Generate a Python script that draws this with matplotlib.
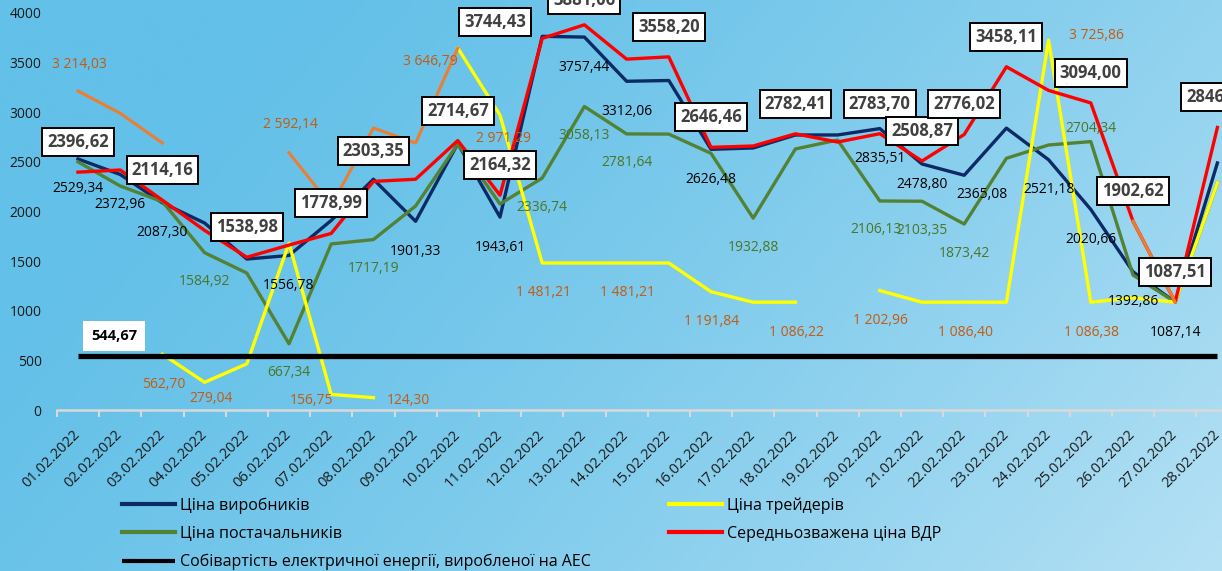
import numpy as np
import matplotlib
matplotlib.use('Agg')
import matplotlib.pyplot as plt

plt.rcParams['font.family'] = ['Open Sans', 'DejaVu Sans']

nan = np.nan

dates = ['01.02.2022', '02.02.2022', '03.02.2022', '04.02.2022', '05.02.2022', '06.02.2022', '07.02.2022',
         '08.02.2022', '09.02.2022', '10.02.2022', '11.02.2022', '12.02.2022', '13.02.2022', '14.02.2022',
         '15.02.2022', '16.02.2022', '17.02.2022', '18.02.2022', '19.02.2022', '20.02.2022', '21.02.2022',
         '22.02.2022', '23.02.2022', '24.02.2022', '25.02.2022', '26.02.2022', '27.02.2022', '28.02.2022']

# Ціна виробників
producers = [2529.34, 2372.96, 2087.30, 1884, 1521, 1556.78, 1910, 2325, 1901.33, 2685, 1943.61, 3765,
             3757.44, 3312.06, 3320, 2626.48, 2640, 2771, 2771, 2835.51, 2478.80, 2365.08, 2840, 2521.18,
             2020.66, 1392.86, 1087.14, 2489]
# Ціна постачальників
suppliers = [2500, 2257, 2099, 1584.92, 1380, 667.34, 1673, 1717.19, 2055, 2680, 2076, 2336.74, 3058.13,
             2781.64, 2780, 2586, 1932.88, 2630, 2720, 2106.13, 2103.35, 1873.42, 2536, 2670, 2704.34,
             1360, 1087, 2290]
# Ціна трейдерів
traders = [nan, nan, 562.70, 279.04, 465, 1680, 156.75, 124.30, nan, 3646.79, 2971.29, 1481.21, 1481.21,
           1481.21, 1481.21, 1191.84, 1086, 1086.22, nan, 1202.96, 1086, 1086.40, 1086, 3725.86, 1086.38,
           1130, 1087, 2290]
# Середньозважена ціна ВДР
vdr = [2396.62, 2418, 2114.16, 1810, 1538.98, 1662, 1778.99, 2303.35, 2325, 2714.67, 2164.32, 3744.43,
       3881.06, 3535, 3558.20, 2646.46, 2660, 2782.41, 2700, 2783.70, 2508.87, 2776.02, 3458.11, 3220,
       3094.00, 1902.62, 1087.51, 2846.40]
# second traders-type series (orange, not in legend)
other = [3214.03, 2990, 2690, nan, nan, 2592.14, 2057, 2841, 2690, 3646.79, nan, nan, nan, nan, nan, nan,
         nan, nan, nan, nan, nan, nan, nan, nan, nan, 1902.62, 1087.51, nan]
# Собівартість електричної енергії, виробленої на АЕС
aes = [544.67] * 28

# which points carry a value label
producers_lbl = [0, 1, 2, 5, 8, 10, 12, 13, 15, 19, 20, 21, 23, 24, 25, 26]
suppliers_lbl = [3, 5, 7, 11, 12, 13, 16, 19, 20, 21, 24]
traders_lbl = [2, 3, 6, 7, 9, 10, 11, 13, 15, 17, 19, 21, 23, 24]
other_lbl = [0, 5]
vdr_lbl = [0, 2, 4, 6, 7, 9, 10, 11, 12, 14, 15, 17, 19, 20, 21, 22, 24, 25, 26, 27]

# label offsets in pixels (dx, dy down)
producers_off = {20: (0, 21), 21: (18, 19)}
suppliers_off = {19: (-4, 29), 24: (0, -13)}
traders_off = {2: (1, 30), 3: (6, 16), 6: (-20, 6), 7: (35, 3), 9: (-27, 13), 10: (4, 23), 23: (48, -5)}
other_off = {0: (1, -27), 5: (1, -28)}
vdr_off = {11: (-47, -16), 12: (0, -25)}


def fmt_plain(v):
    return '{:.2f}'.format(v).replace('.', ',')


def fmt_space(v):
    return '{:,.2f}'.format(v).replace(',', ' ').replace('.', ',')


W, H = 1222, 571
fig = plt.figure(figsize=(W / 100, H / 100), dpi=100)

# gradient background
bg = fig.add_axes([0, 0, 1, 1], zorder=-10)
gx, gy = np.meshgrid(np.linspace(0, 1, 400), np.linspace(0, 1, 200))
t = np.clip(0.75 * gx + 0.3 * gy - 0.15, 0, 1) ** 1.4
c0 = np.array([0x63, 0xC0, 0xE8]) / 255
c1 = np.array([0xC2, 0xE6, 0xF6]) / 255
img = c0[None, None, :] * (1 - t[..., None]) + c1[None, None, :] * t[..., None]
bg.imshow(img, aspect='auto', extent=[0, 1, 0, 1], origin='upper')
bg.axis('off')

x0, step = 78.0, 42.2
left = (x0 - 0.5 * step) / W
right = (x0 + 27.5 * step) / W
ax = fig.add_axes([left, (H - 410) / H, right - left, (410 - 13) / H])
ax.set_facecolor('none')

x = np.arange(len(dates))
ax.plot(x, producers, color='#0B2A66', lw=2.4, zorder=3, label='Ціна виробників')
ax.plot(x, suppliers, color='#548235', lw=2.4, zorder=3, label='Ціна постачальників')
ax.plot(x, aes, color='black', lw=3.8, zorder=6, solid_capstyle='butt',
        label='Собівартість електричної енергії, виробленої на АЕС')
ax.plot(x, traders, color='#FFFF00', lw=2.4, zorder=4, label='Ціна трейдерів')
ax.plot(x, vdr, color='#FF0000', lw=2.4, zorder=5, label='Середньозважена ціна ВДР')
ax.plot(x, other, color='#ED7D31', lw=2.2, zorder=5.5)

ax.set_xlim(-0.5, 27.5)
ax.set_ylim(0, 4000)
ax.set_yticks(np.arange(0, 4001, 500))
ax.tick_params(axis='y', length=0, pad=11, labelsize=10, labelcolor='#1A1A1A')
ax.set_xticks(x)
ax.set_xticklabels(dates, rotation=45, ha='right', va='center', rotation_mode='anchor',
                   fontsize=10.5, color='#1A1A1A')
ax.tick_params(axis='x', which='major', length=0, pad=16)
ax.set_xticks(np.arange(-0.5, 28, 1), minor=True)
ax.tick_params(axis='x', which='minor', length=5, width=1.5, color='#D9D9D9')
for s in ['left', 'top', 'right']:
    ax.spines[s].set_visible(False)
ax.spines['bottom'].set_color('#D9D9D9')
ax.spines['bottom'].set_linewidth(1.8)


def put(series, idxs, offs, default, fmt, **kw):
    for i in idxs:
        dx, dy = offs.get(i, default)
        ax.annotate(fmt(series[i]), (x[i], series[i]), xytext=(dx, -dy), textcoords='offset pixels',
                    ha='center', va='center', zorder=10, annotation_clip=False, **kw)


put(producers, producers_lbl, producers_off, (0, 30), fmt_plain, fontsize=10, color='black')
put(suppliers, suppliers_lbl, suppliers_off, (0, 29), fmt_plain, fontsize=10, color='#4A7628')
put(traders, traders_lbl, traders_off, (1, 30), fmt_space, fontsize=10, color='#C55A11')
put(other, other_lbl, other_off, (0, -28), fmt_space, fontsize=10, color='#C55A11')
put(vdr, vdr_lbl, vdr_off, (0, -30), fmt_plain, fontsize=12, fontweight='bold', color='#404040',
    bbox=dict(boxstyle='square,pad=0.3', fc='white', ec='black', lw=1.4))
put(aes, [0], {0: (36, -20)}, (36, -20), fmt_plain, fontsize=10.5, fontweight='bold', color='black',
    bbox=dict(boxstyle='square,pad=0.55', fc='white', ec='none'))

handles, labels = ax.get_legend_handles_labels()
leg = fig.legend(handles, labels, ncol=2, loc='upper left', bbox_to_anchor=(122 / W, 1 - 497 / H),
                 frameon=False, fontsize=11.5, handlelength=3.3, handletextpad=0.3,
                 columnspacing=4.95, labelspacing=0.76, borderaxespad=0, borderpad=0)
for line in leg.get_lines():
    line.set_linewidth(3)

fig.savefig('out.png', dpi=100)
